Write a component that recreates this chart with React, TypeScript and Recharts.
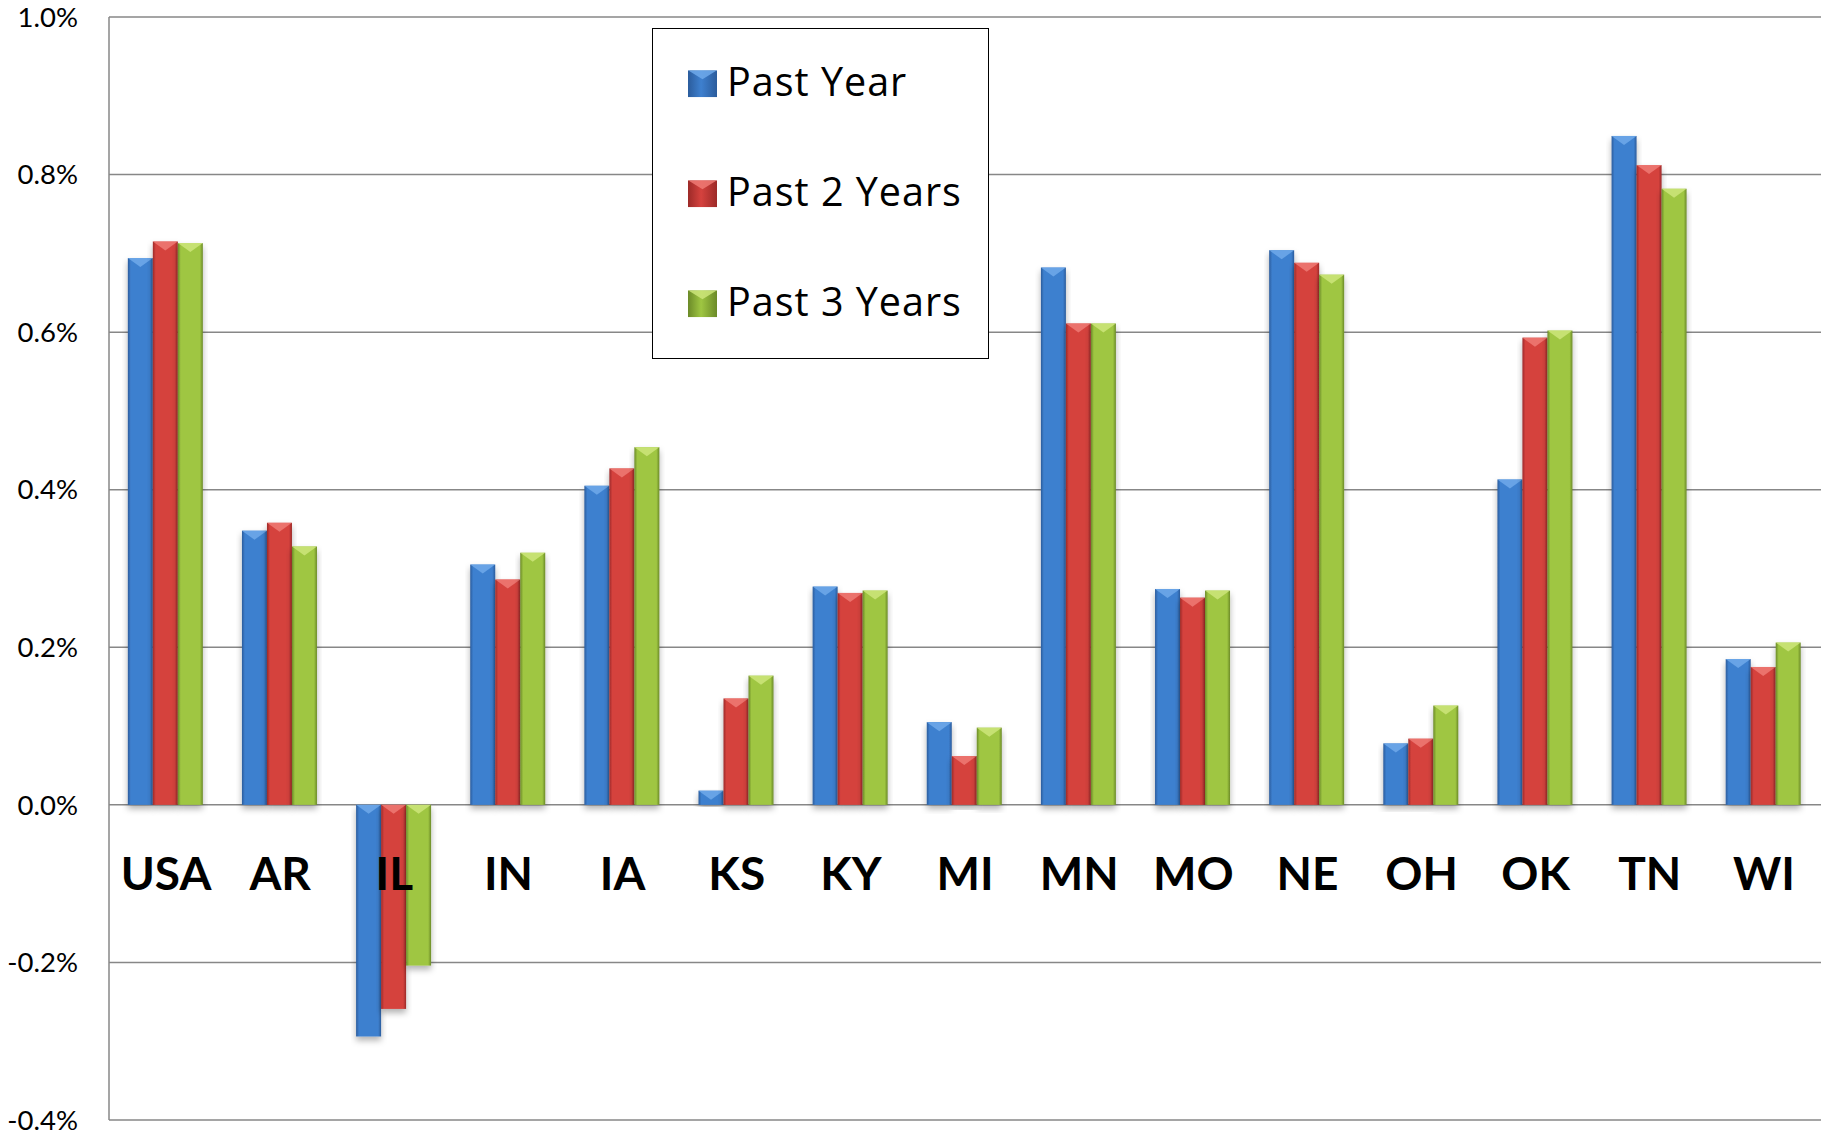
import React from "react";
import { BarChart, Bar, XAxis, YAxis, CartesianGrid, Legend } from "recharts";

// values in percent
const states = ["USA", "AR", "IL", "IN", "IA", "KS", "KY", "MI", "MN", "MO", "NE", "OH", "OK", "TN", "WI"];
const pastYear = [0.694, 0.348, -0.294, 0.305, 0.405, 0.018, 0.277, 0.105, 0.682, 0.274, 0.704, 0.078, 0.413, 0.849, 0.185];
const past2Years = [0.715, 0.358, -0.259, 0.286, 0.427, 0.135, 0.269, 0.062, 0.611, 0.263, 0.688, 0.084, 0.593, 0.812, 0.175];
const past3Years = [0.713, 0.328, -0.204, 0.32, 0.454, 0.164, 0.272, 0.098, 0.611, 0.272, 0.673, 0.126, 0.602, 0.782, 0.206];
const yTicks = [-0.4, -0.2, 0, 0.2, 0.4, 0.6, 0.8, 1.0];

const series = [
  { key: "pastYear", name: "Past Year", dark: "#2b5c9c", mid: "#3e80cf", light: "#6fa9ea" },
  { key: "past2Years", name: "Past 2 Years", dark: "#9c2a28", mid: "#d5423e", light: "#ee7a74" },
  { key: "past3Years", name: "Past 3 Years", dark: "#6b8a28", mid: "#9fc642", light: "#cde57a" },
];

const W = 1827;
const H = 1134;
const MARGIN = { top: 17, right: 6, bottom: 0, left: 0 };
const X_AXIS_H = 14;
const Y_MIN = -0.4;
const Y_MAX = 1.0;
const FONT = "Lato, 'Open Sans', sans-serif";
const LEGEND_FONT = "'Open Sans', Lato, sans-serif";

// y pixel of the zero line, where the category names hang
const zeroY = MARGIN.top + ((H - MARGIN.top - MARGIN.bottom - X_AXIS_H) * Y_MAX) / (Y_MAX - Y_MIN);

const data = states.map((state, i) => ({
  state,
  pastYear: pastYear[i],
  past2Years: past2Years[i],
  past3Years: past3Years[i],
}));

const makeShape = (s: (typeof series)[number]) => (props: any) => {
  const { x, y, width, height } = props;
  const top = Math.min(y, y + height);
  const h = Math.abs(height);
  const chev = Math.min(9, h);
  return (
    <g filter="url(#barShadow)">
      <rect x={x} y={top} width={width} height={h} fill={`url(#grad-${s.key})`} />
      <polygon
        points={`${x},${top} ${x + width},${top} ${x + width / 2},${top + chev}`}
        fill={s.light}
        opacity={0.85}
      />
    </g>
  );
};

const CategoryTick = ({ x, payload }: any) => (
  <text
    x={x}
    y={zeroY + 68}
    textAnchor="middle"
    dominantBaseline="central"
    fontFamily={FONT}
    fontWeight={700}
    fontSize={46}
    fill="#000"
  >
    {payload.value}
  </text>
);

const LegendBox = () => (
  <div
    style={{
      width: 337,
      height: 331,
      boxSizing: "border-box",
      border: "1.5px solid #000",
      background: "#fff",
      position: "relative",
      fontFamily: LEGEND_FONT,
    }}
  >
    {series.map((s, i) => (
      <div
        key={s.key}
        style={{
          position: "absolute",
          left: 35,
          top: 53 + i * 110,
          transform: "translateY(-50%)",
          display: "flex",
          alignItems: "center",
          whiteSpace: "nowrap",
        }}
      >
        <svg width={29} height={27} style={{ marginRight: 10, marginTop: 4 }}>
          <defs>
            <linearGradient id={`lg-${s.key}`} x1="0" y1="0" x2="1" y2="0">
              <stop offset="0%" stopColor={s.dark} />
              <stop offset="45%" stopColor={s.mid} />
              <stop offset="100%" stopColor={s.dark} />
            </linearGradient>
          </defs>
          <rect x={0} y={0} width={29} height={27} fill={`url(#lg-${s.key})`} />
          <polygon points="0,0 29,0 14.5,9" fill={s.light} opacity={0.85} />
        </svg>
        <span style={{ fontSize: 39.5, letterSpacing: 1, color: "#000", lineHeight: 1 }}>{s.name}</span>
      </div>
    ))}
  </div>
);

export default function App() {
  return (
    <div style={{ position: "absolute", left: 0, top: 0, background: "#fff" }}>
      <BarChart width={W} height={H} data={data} margin={MARGIN} barCategoryGap="16.5%" barGap={0}>
        <defs>
          {series.map((s) => (
            <linearGradient key={s.key} id={`grad-${s.key}`} x1="0" y1="0" x2="1" y2="0">
              <stop offset="0%" stopColor={s.dark} />
              <stop offset="12%" stopColor={s.mid} />
              <stop offset="45%" stopColor={s.mid} />
              <stop offset="88%" stopColor={s.mid} />
              <stop offset="100%" stopColor={s.dark} />
            </linearGradient>
          ))}
          <filter id="barShadow" x="-20%" y="-5%" width="140%" height="115%">
            <feDropShadow dx="0" dy="4" stdDeviation="3" floodColor="#000" floodOpacity="0.3" />
          </filter>
        </defs>
        <CartesianGrid vertical={false} stroke="#878787" strokeWidth={1.5} />
        <YAxis
          domain={[Y_MIN, Y_MAX]}
          ticks={yTicks}
          interval={0}
          width={109}
          tickFormatter={(v: number) => `${v.toFixed(1)}%`}
          axisLine={{ stroke: "#878787", strokeWidth: 1.5 }}
          tickLine={false}
          tickSize={0}
          tickMargin={31}
          tick={{ fontSize: 27.5, fontFamily: FONT, fill: "#000" }}
        />
        {series.map((s) => (
          <Bar
            key={s.key}
            dataKey={s.key}
            name={s.name}
            fill={s.mid}
            shape={makeShape(s)}
            isAnimationActive={false}
          />
        ))}
        <XAxis
          dataKey="state"
          interval={0}
          height={X_AXIS_H}
          axisLine={false}
          tickLine={false}
          tick={<CategoryTick />}
        />
        <Legend
          layout="vertical"
          align="center"
          verticalAlign="middle"
          wrapperStyle={{ left: 652, top: 28, width: 337, height: 331 }}
          content={<LegendBox />}
        />
      </BarChart>
    </div>
  );
}
